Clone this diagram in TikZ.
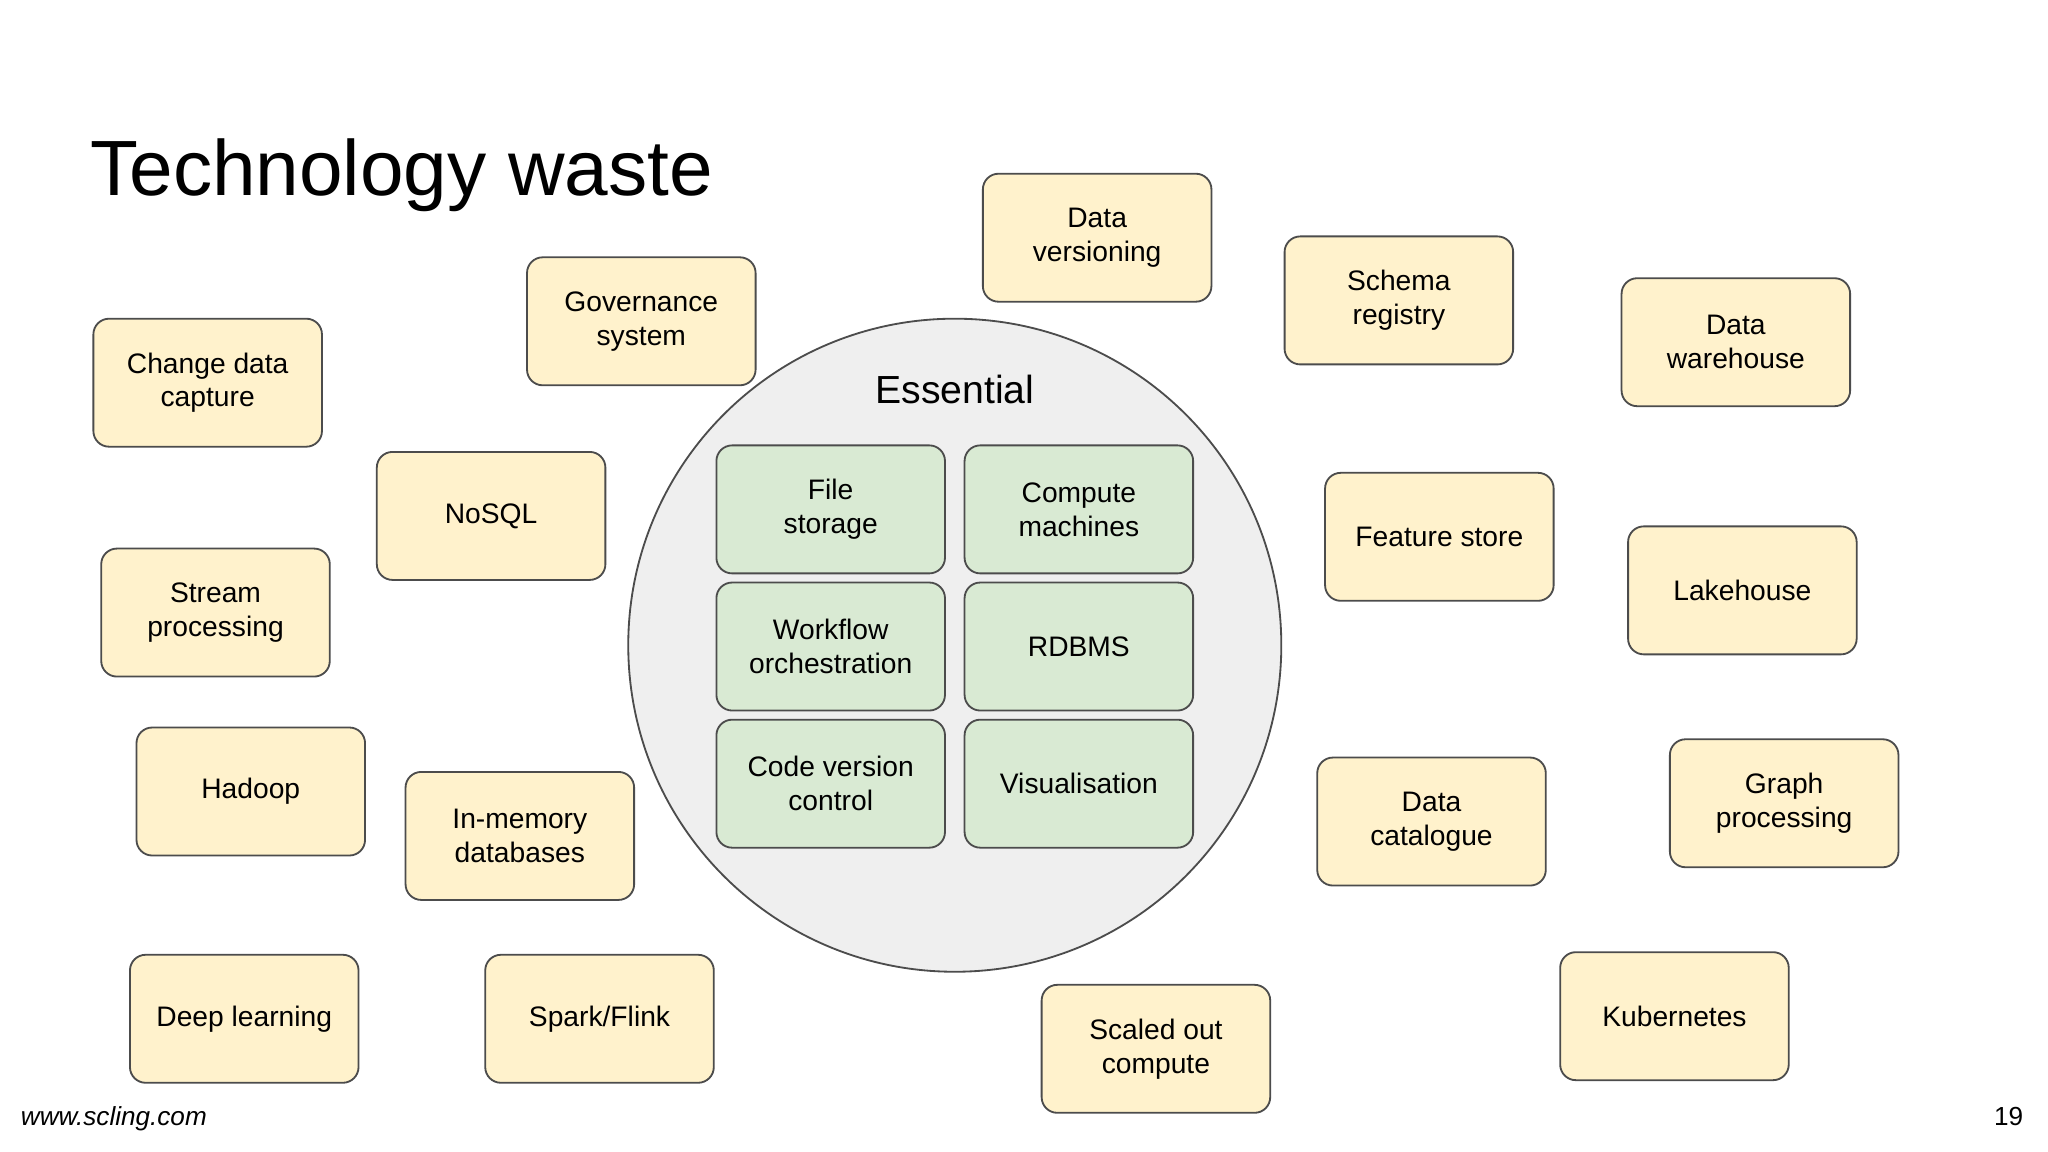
\documentclass[tikz,border=0pt]{standalone}
\usepackage{fontspec}
\setmainfont{Liberation Sans}
\begin{document}
\begin{tikzpicture}[x=0.5pt,y=-0.5pt,
 box/.style={draw=black!70,line width=0.7pt,rounded corners=6pt,minimum width=87.5pt,minimum height=49pt,align=center,font=\fontsize{10.8}{13}\selectfont},
 yb/.style={box,fill={rgb,255:red,255;green,242;blue,204}},
 gb/.style={box,fill={rgb,255:red,217;green,234;blue,211}}]
\useasboundingbox (0,0) rectangle (1568,882);
\fill[white] (0,0) rectangle (1568,882);
\node[anchor=base west,font=\fontsize{30}{36}\selectfont] (title) at (62,150) {Technology waste};
\node[anchor=base west,font=\fontsize{10}{12}\selectfont\itshape] (www) at (9,862) {www.scling.com};
\node[anchor=base east,font=\fontsize{10}{12}\selectfont] (pg) at (1556,862) {19};
\node[circle,draw=black!70,line width=0.7pt,fill={rgb,255:red,239;green,239;blue,239},minimum size=250pt] (circ) at (731,494) {};
\node[font=\fontsize{15}{18}\selectfont] (ess) at (731,298) {Essential};
\node[gb] (fs) at (636,390) {File\\storage};
\node[gb] (cm) at (826,390) {Compute\\machines};
\node[gb] (wo) at (636,495) {Workflow\\orchestration};
\node[gb] (rd) at (826,495) {RDBMS};
\node[gb] (cv) at (636,600) {Code version\\control};
\node[gb] (vi) at (826,600) {Visualisation};
\node[yb] (cdc) at (159,293) {Change data\\capture};
\node[yb] (gov) at (491,246) {Governance\\system};
\node[yb] (dv) at (840,182) {Data\\versioning};
\node[yb] (sr) at (1071,230) {Schema\\registry};
\node[yb] (dw) at (1329,262) {Data\\warehouse};
\node[yb] (nosql) at (376,395) {NoSQL};
\node[yb] (sp) at (165,469) {Stream\\processing};
\node[yb] (fst) at (1102,411) {Feature store};
\node[yb] (lh) at (1334,452) {Lakehouse};
\node[yb] (had) at (192,606) {Hadoop};
\node[yb] (imd) at (398,640) {In-memory\\databases};
\node[yb] (dc) at (1096,629) {Data\\catalogue};
\node[yb] (gp) at (1366,615) {Graph\\processing};
\node[yb] (dl) at (187,780) {Deep learning};
\node[yb] (sf) at (459,780) {Spark/Flink};
\node[yb] (soc) at (885,803) {Scaled out\\compute};
\node[yb] (k8s) at (1282,778) {Kubernetes};
\end{tikzpicture}
\end{document}
